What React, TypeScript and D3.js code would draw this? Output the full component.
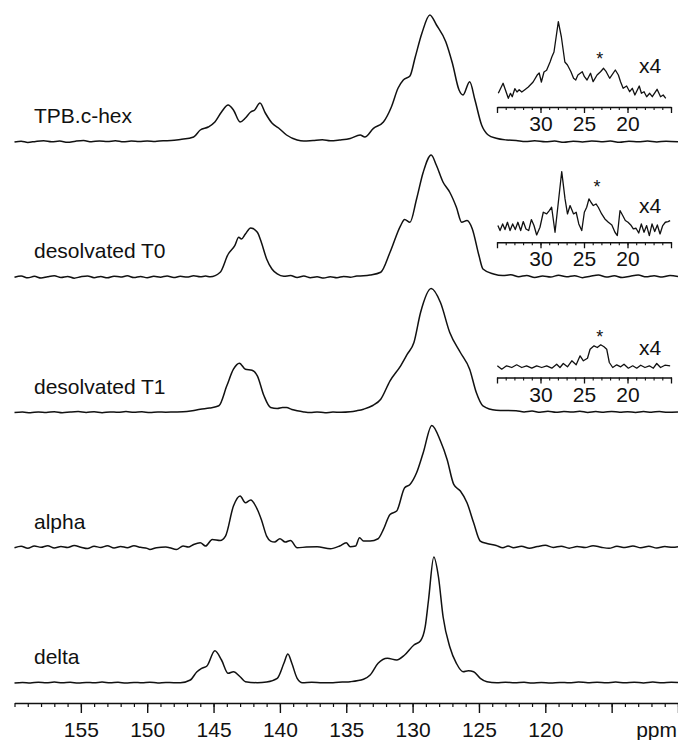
import React, { useEffect, useRef } from "react";
import * as d3 from "d3";

type Pt = [number, number];

// sample names, top to bottom
const sampleNames = ["TPB.c-hex", "desolvated T0", "desolvated T1", "alpha", "delta"];

// main spectra: [ppm, intensity]
const tpbMain: Pt[] = [
  [160, 0], [159.5, 0.8], [159, -0.4], [158.4, 0.6], [157.8, 1.2], [157.2, 0.2], [156.6, 1], [156, -0.3],
  [155.4, 0.8], [154.8, 1.4], [154.2, 0.3], [153.6, 1.1], [153, 0.4], [152.4, 1.3], [151.8, 0.2], [151.2, 0.9],
  [150.6, 0.4], [150, 1.1], [149.4, 0.6], [148.8, 1.3], [148.2, 1.4], [147.5, 2.5], [146.5, 5], [146, 12],
  [145.4, 15], [144.9, 20], [144.4, 30], [143.9, 37], [143.5, 32], [143, 20], [142.6, 24], [142.2, 30],
  [141.9, 32], [141.5, 39], [141.1, 29], [140.6, 19], [140.1, 14], [139.5, 7], [138.7, 2], [138.2, 1],
  [137.5, 1.6], [136.8, 2.2], [136.2, 1.2], [135.5, 2], [134.7, 3.5], [133.95, 7], [133.6, 5], [132.95, 13.7],
  [132.2, 20], [131.6, 35], [131.1, 53.7], [130.7, 62], [130.2, 66], [129.8, 85], [129.3, 108.7], [128.7, 127],
  [128.2, 117], [127.5, 100.3], [127, 78.7], [126.5, 52], [126.2, 47], [125.7, 60.3], [125.3, 42], [124.8, 17],
  [124.3, 7], [123.7, 3.7], [122.9, 2], [122.2, 1.5], [121.5, 0.5], [120.8, 1.2], [120, 0.2], [119.3, 0.9],
  [118.6, -0.2], [117.9, 0.8], [117.2, 0.1], [116.5, 1], [115.8, 0.3], [115.1, 0.9], [114.4, -0.3], [113.7, 0.7],
  [113, 0.2], [112.3, 1], [111.6, 0.1], [110.9, 0.7], [110, 0.2],
];

const t0Main: Pt[] = [
  [160, 0], [159.5, 1.2], [159, -0.6], [158.5, 0.9], [158, -0.8], [157.5, 0.6], [157, 1.5], [156.5, -0.2],
  [156, 0.8], [155.5, -0.9], [155, 0.5], [154.5, 1.3], [154, -0.4], [153.5, 0.7], [153, -0.6], [152.5, 1.1],
  [152, 0.2], [151.5, 1.4], [151, -0.3], [150.5, 0.8], [150, -0.5], [149.5, 1], [149, 0.1], [148.5, 1.2],
  [148, -0.2], [147.5, 0.9], [147, 0.2], [146.5, 1.4], [146, 0.4], [145.6, 1.2], [145.25, 0.5], [144.5, 5],
  [143.9, 23], [143.4, 31.7], [143.1, 40], [142.9, 38.3], [142.6, 43.3], [142.2, 49.3], [141.7, 45], [141.4, 35],
  [141, 18.3], [140.6, 8.3], [140.2, 3.3], [139.7, 1], [139.2, 1.7], [138.7, -0.3], [138.2, 1.2], [137.7, -0.5],
  [137.2, 0.4], [136.7, -0.8], [136.2, 0.6], [135.7, -0.4], [135.2, 0.8], [134.7, 0], [134.2, 1.2], [133.7, 1.5],
  [133.2, 2.3], [132.4, 5], [131.7, 25], [130.9, 51.7], [130.6, 57.7], [130.2, 55], [129.7, 78.3], [129.2, 105],
  [128.6, 122.3], [128.2, 111.7], [127.7, 95], [127.2, 85], [126.7, 70], [126.3, 55], [125.9, 56.7], [125.5, 48.3],
  [125, 21.7], [124.7, 8.3], [123.9, 3.3], [123.2, 1.7], [122.6, 2.5], [122, 0.5], [121.4, 1.8], [120.8, -0.2],
  [120.2, 1.2], [119.6, 0.2], [119, 2], [118.4, 0.5], [117.8, 1.6], [117.2, -0.4], [116.6, 1], [116, 2.2],
  [115.4, 0.3], [114.8, 1.4], [114.2, -0.3], [113.6, 1.1], [113, 2.2], [112.4, 0.4], [111.8, 1.5], [111.2, 0.2],
  [110.6, 1.8], [110, 0.8],
];

const t1Main: Pt[] = [
  [160, 0], [159.4, 0.5], [158.8, -0.3], [158.2, 0.6], [157.6, 0.1], [157, 0.8], [156.4, -0.2], [155.8, 0.5],
  [155.2, 0.9], [154.6, 0.1], [154, 0.7], [153.4, -0.2], [152.8, 0.6], [152.2, 0.2], [151.6, 0.9], [151, 0.3],
  [150.4, 0.7], [149.8, 0], [149.2, 0.6], [148.6, 0.3], [148, 0.5], [147.3, 0.7], [146.6, 1.8], [146, 3.3],
  [145.3, 4.5], [144.6, 6.7], [144, 26.7], [143.5, 43.3], [143.05, 49.3], [142.6, 43.3], [142.1, 42.3], [141.7, 36.7],
  [141.2, 16.7], [140.7, 5], [140.2, 4], [139.8, 5], [139.5, 5], [139.1, 3], [138.7, 1.7], [138.2, 0.6],
  [137.7, 0], [137.2, 0.5], [136.6, -0.2], [136, 0.4], [135.4, 0.2], [134.7, 0.7], [134.2, 1.8], [133.7, 3.3],
  [133, 7], [132.4, 13.3], [131.7, 31.7], [130.9, 46.7], [130.4, 58.3], [129.9, 70], [129.4, 100], [128.6, 124],
  [127.9, 110], [127.2, 80], [126.4, 60], [125.7, 43.3], [125.2, 20], [124.7, 6.7], [123.7, 2.3], [122.2, 1.7],
  [121.6, 0.6], [121, 1.4], [120.4, 0.3], [119.8, 1.2], [119.2, 0.2], [118.6, 1], [118, 0.4], [117.4, 1.3],
  [116.8, 0.1], [116.2, 0.9], [115.6, 0.3], [115, 1.1], [114.4, 0.2], [113.8, 0.8], [113.2, 0], [112.6, 0.9],
  [112, 0.3], [111.4, 1], [110.8, 0.2], [110, 0.6],
];

const alphaMain: Pt[] = [
  [160, 0], [159.5, 1.5], [159, -0.5], [158.5, 1.8], [158, 0.4], [157.5, 2], [157, -0.3], [156.5, 1.2],
  [156, 0.2], [155.5, 2.2], [155, 0.6], [154.5, -0.8], [154, 1.5], [153.5, 0.3], [153, 2], [152.5, -0.2],
  [152, 1.3], [151.5, 0.1], [151, 1.9], [150.5, 0.4], [150, -0.6], [149.8, -1.7], [149.3, 0], [148.6, 0.7],
  [148.3, 0], [147.8, -1.7], [147.3, 1.7], [146.9, 0.7], [146.5, 3.3], [146, 5], [145.6, 1.7], [145.1, 8.3],
  [144.5, 7.3], [144.1, 11.7], [143.5, 41.7], [143, 51.7], [142.6, 45], [142.2, 47.7], [141.7, 38.3], [141.4, 28.3],
  [141, 11.7], [140.7, 6.7], [140.4, 5.7], [140, 9], [139.6, 5.7], [139.2, 7.3], [138.7, 0], [138, 0.7],
  [137.2, 1], [136.2, -1], [135.5, 1.7], [135, 5], [134.7, 1], [134.3, 1.7], [134, 10], [133.7, 6.7],
  [133.2, 6.7], [132.6, 9], [132.2, 18.3], [131.7, 33.3], [131.2, 36.7], [130.6, 60], [130.2, 63.3], [129.7, 75],
  [129.2, 95], [128.55, 122.3], [127.9, 106.7], [127.4, 88.3], [126.9, 63.3], [126.4, 56.7], [125.9, 45], [125.4, 25],
  [124.9, 6.7], [124.4, 4.3], [123.7, 2.3], [123.2, 0], [122.8, 1.7], [122.4, 0], [121.8, 1.5], [121.2, -0.5],
  [120.6, 1.2], [120, 2.4], [119.4, 0.3], [118.8, 1.6], [118.2, -0.4], [117.6, 1.2], [117, 0.2], [116.4, 2],
  [115.8, 0.5], [115.2, -0.6], [114.6, 1.4], [114, 0.3], [113.4, 1.8], [112.8, 0], [112.2, 1.5], [111.6, -0.3],
  [111, 1.2], [110.4, 0.4], [110, 1],
];

const deltaMain: Pt[] = [
  [160, 0], [159.4, 0.6], [158.8, 0.1], [158.2, 0.8], [157.6, 0.2], [157, 0.9], [156.4, 0.3], [155.8, 0.7],
  [155.2, -0.1], [154.6, 0.6], [154, 0.2], [153.4, 0.9], [152.8, 0.3], [152.2, 0.7], [151.6, 0], [151, 0.6],
  [150.4, 0.2], [149.8, 0.8], [149.2, 0.1], [148.6, 0.5], [148, 0.3], [147.5, 0.3], [146.75, 3], [146.25, 11.3],
  [145.9, 14.7], [145.5, 17], [144.9, 32.3], [144.4, 23], [143.9, 9.7], [143.5, 11.3], [143, 6.3], [142.6, 1.3],
  [141.7, 0.3], [141, 1], [140.2, 4.7], [139.7, 19.7], [139.4, 29], [139.1, 19.7], [138.7, 4.7], [138.3, 0.3],
  [137.6, 0.8], [136.8, 0.2], [136, 0.3], [135.3, 0.9], [134.7, 1.3], [133.7, 3.7], [133.2, 8], [132.6, 19.7],
  [131.9, 24.7], [131.2, 23], [130.6, 28], [129.9, 38], [129.4, 42.3], [129.05, 56.3], [128.8, 83], [128.4, 126],
  [128.05, 106], [127.7, 66], [127.2, 36.3], [126.7, 19.7], [126.2, 11.3], [125.8, 12.3], [125.4, 11.3], [124.9, 4.7],
  [124.4, 1.3], [123.65, 0.3], [123, 0.8], [122.3, 0.2], [121.6, 0.7], [121, 0], [120.3, 0.5], [119.6, 0.1],
  [118.9, 0.6], [118.2, 0.2], [117.5, 1], [116.8, 0.3], [116.1, 0.8], [115.4, 0.2], [114.7, 0.9], [114, 0.3],
  [113.3, 0.8], [112.6, 0.1], [111.9, 0.9], [111.2, 0.3], [110.5, 0.7], [110, 0.4],
];

// x4 insets (aliphatic region), [ppm, intensity above inset axis]
const tpbInset: Pt[] = [
  [34.85, 13.7], [34.3, 23.7], [33.7, 8.7], [33.45, 13.7], [33.25, 10.3], [32.95, 18.3], [32.7, 15], [32.45, 17.3],
  [32.15, 15], [31.8, 17.3], [31.4, 20], [30.85, 25], [30.4, 31.7], [30.15, 34], [29.9, 25], [29.6, 35],
  [29.3, 36.7], [28.9, 45], [28.7, 50], [28.45, 55], [27.95, 85.3], [27.6, 70], [27.2, 45], [26.9, 42],
  [26.5, 35.3], [26.2, 28.7], [25.95, 27], [25.7, 32], [25.2, 35.3], [24.95, 30.3], [24.65, 27], [24.25, 33.7],
  [23.95, 25.3], [23.5, 32], [23.1, 35.3], [22.75, 38.7], [22.45, 35.3], [22.05, 28.7], [21.4, 37], [21.05, 32],
  [20.8, 25.3], [20.5, 18.7], [20.1, 21], [19.75, 15.3], [19.45, 18.7], [19.15, 12], [18.65, 21], [18.4, 13.7],
  [18.1, 15.3], [17.8, 10.3], [17.45, 13.7], [17.15, 10.3], [16.6, 17.7], [16.2, 10.3], [15.9, 12], [15.6, 8.7],
];

const t0Inset: Pt[] = [
  [34.9, 16.7], [34.65, 11.7], [34.35, 18.3], [34.08, 12.7], [33.8, 20], [33.5, 11.7], [33.2, 18.3], [32.9, 12.7],
  [32.6, 20], [32.28, 11.7], [31.98, 20.7], [31.67, 13.3], [31.36, 11.7], [31.05, 22.7], [30.75, 16.7], [30.44, 7.3],
  [30.06, 15], [29.68, 30], [29.29, 28.3], [28.99, 31.7], [28.72, 35], [28.33, 10], [27.95, 40], [27.56, 70.7],
  [27.18, 43.3], [26.9, 28.3], [26.6, 36.7], [26.2, 28.3], [25.9, 30], [25.6, 18.3], [25.26, 11.7], [24.96, 30],
  [24.69, 35], [24.43, 43.3], [24.2, 40], [23.93, 36.7], [23.62, 38.3], [23.36, 35], [22.97, 28.3], [22.6, 23.3],
  [22.2, 20], [21.8, 17.3], [21.44, 10], [21.17, 6.7], [20.86, 31.7], [20.55, 26.7], [20.25, 21.7], [19.94, 20],
  [19.63, 17.3], [19.33, 13.3], [19.02, 14], [18.71, 9.3], [18.41, 18.3], [18.1, 10], [17.8, 16.7], [17.49, 6.7],
  [17.18, 18.3], [16.87, 10.7], [16.57, 17.3], [16.26, 8.3], [15.95, 16.7], [15.65, 20], [15.34, 20.7], [15.1, 21.7],
];

const t1Inset: Pt[] = [
  [34.96, 11.7], [34.46, 8.3], [33.9, 11.7], [33.3, 10], [32.74, 12.7], [32.16, 10], [31.6, 11.7], [31, 9.3],
  [30.44, 11.7], [29.86, 10], [29.29, 11.7], [28.7, 9.3], [28.14, 13.3], [27.76, 10], [27.38, 14], [26.9, 10.7],
  [26.4, 16.7], [25.9, 12.7], [25.45, 21.7], [25.07, 16.7], [24.6, 19.3], [24.3, 28.3], [23.85, 31.7], [23.47, 30],
  [23.08, 32.7], [22.7, 30.7], [22.39, 28.3], [22.09, 15], [21.7, 10], [21.24, 12.7], [20.78, 10.7], [20.4, 13.3],
  [19.9, 9.3], [19.4, 11.7], [18.94, 9.3], [18.48, 12.3], [17.99, 10], [17.49, 11.7], [17.03, 9.3], [16.64, 14],
  [16.2, 10], [15.7, 12.3], [15.1, 11.7],
];

const mainSpectra = [tpbMain, t0Main, t1Main, alphaMain, deltaMain];
const insetSpectra = [tpbInset, t0Inset, t1Inset];

const mainMajorTicks = [155, 150, 145, 140, 135, 130, 125, 120, 115, 110];
const mainTickLabels = [155, 150, 145, 140, 135, 130, 125, 120];
const insetMajorTicks = [35, 30, 25, 20, 15];
const insetTickLabels = [30, 25, 20];
const starPpm = [23.2, 23.5, 23.2];
const insetFactor = "x4";

const W = 678;
const H = 740;
const FONT = "'Liberation Sans', Arial, Helvetica, sans-serif";

// annotation lifts above each inset axis (px)
const starLift = [42, 49, 35];
const factorLift = [34, 29, 23];

const App = () => {
  const ref = useRef<SVGSVGElement>(null);

  useEffect(() => {
    const svg = d3.select(ref.current);
    svg.selectAll("*").remove();

    const x = d3.scaleLinear().domain([160, 110]).range([14.5, 678]);
    const xi = d3.scaleLinear().domain([35, 15]).range([497, 671]);
    const base = d3.scalePoint<string>().domain(sampleNames).range([142, 683]);
    const amp = d3.scaleLinear().domain([0, 100]).range([0, 100]);
    const axisY = 703;

    // spectra
    mainSpectra.forEach((pts, i) => {
      const b = base(sampleNames[i])!;
      const line = d3.line<Pt>()
        .x(d => x(d[0]))
        .y(d => b - amp(d[1]))
        .curve(d3.curveMonotoneX);
      svg.append("path")
        .attr("d", line(pts))
        .attr("fill", "none")
        .attr("stroke", "#111")
        .attr("stroke-width", 1.5)
        .attr("stroke-linejoin", "round");

      svg.append("text")
        .attr("x", 34)
        .attr("y", b - 19)
        .attr("font-family", FONT)
        .attr("font-size", 21)
        .attr("fill", "#111")
        .text(sampleNames[i]);
    });

    // main axis
    const minor = svg.append("g")
      .attr("transform", `translate(0,${axisY})`)
      .call(d3.axisBottom(x).tickValues(d3.range(110, 161)).tickSize(4).tickSizeOuter(0).tickFormat(() => ""));
    minor.select(".domain").attr("stroke-width", 1.6).attr("stroke", "#111");
    minor.selectAll(".tick line").attr("stroke-width", 1.2).attr("stroke", "#111");

    const major = svg.append("g")
      .attr("transform", `translate(0,${axisY})`)
      .call(d3.axisBottom(x).tickValues(mainMajorTicks).tickSize(10).tickSizeOuter(0)
        .tickFormat(d => (mainTickLabels.includes(+d) ? String(d) : "")));
    major.select(".domain").remove();
    major.selectAll(".tick line").attr("stroke-width", 1.4).attr("stroke", "#111");
    major.selectAll(".tick text")
      .attr("y", 34)
      .attr("dy", null)
      .attr("font-family", FONT)
      .attr("font-size", 21)
      .attr("fill", "#111");

    svg.append("text")
      .attr("x", 677)
      .attr("y", axisY + 34)
      .attr("text-anchor", "end")
      .attr("font-family", FONT)
      .attr("font-size", 21)
      .attr("fill", "#111")
      .text("ppm");

    // insets
    insetSpectra.forEach((pts, i) => {
      const ay = base(sampleNames[i])! - 35;
      const line = d3.line<Pt>()
        .x(d => xi(d[0]))
        .y(d => ay - amp(d[1]));
      svg.append("path")
        .attr("d", line(pts))
        .attr("fill", "none")
        .attr("stroke", "#111")
        .attr("stroke-width", 1.3)
        .attr("stroke-linejoin", "round");

      const mi = svg.append("g")
        .attr("transform", `translate(0,${ay})`)
        .call(d3.axisBottom(xi).tickValues(d3.range(15, 36)).tickSize(3).tickSizeOuter(0).tickFormat(() => ""));
      mi.select(".domain").attr("stroke-width", 1.5).attr("stroke", "#111");
      mi.selectAll(".tick line").attr("stroke-width", 1.1).attr("stroke", "#111");

      const ma = svg.append("g")
        .attr("transform", `translate(0,${ay})`)
        .call(d3.axisBottom(xi).tickValues(insetMajorTicks).tickSize(6).tickSizeOuter(0)
          .tickFormat(d => (insetTickLabels.includes(+d) ? String(d) : "")));
      ma.select(".domain").remove();
      ma.selectAll(".tick line").attr("stroke-width", 1.3).attr("stroke", "#111");
      ma.selectAll(".tick text")
        .attr("y", 24)
        .attr("dy", null)
        .attr("font-family", FONT)
        .attr("font-size", 21)
        .attr("fill", "#111");

      svg.append("text")
        .attr("x", xi(starPpm[i]))
        .attr("y", ay - starLift[i])
        .attr("text-anchor", "middle")
        .attr("font-family", FONT)
        .attr("font-size", 18)
        .attr("fill", "#111")
        .text("*");

      svg.append("text")
        .attr("x", 639)
        .attr("y", ay - factorLift[i])
        .attr("font-family", FONT)
        .attr("font-size", 21)
        .attr("fill", "#111")
        .text(insetFactor);
    });
  }, []);

  return (
    <svg
      ref={ref}
      width={W}
      height={H}
      style={{ position: "absolute", left: 0, top: 0, background: "#fff" }}
    ></svg>
  );
};

export default App;
